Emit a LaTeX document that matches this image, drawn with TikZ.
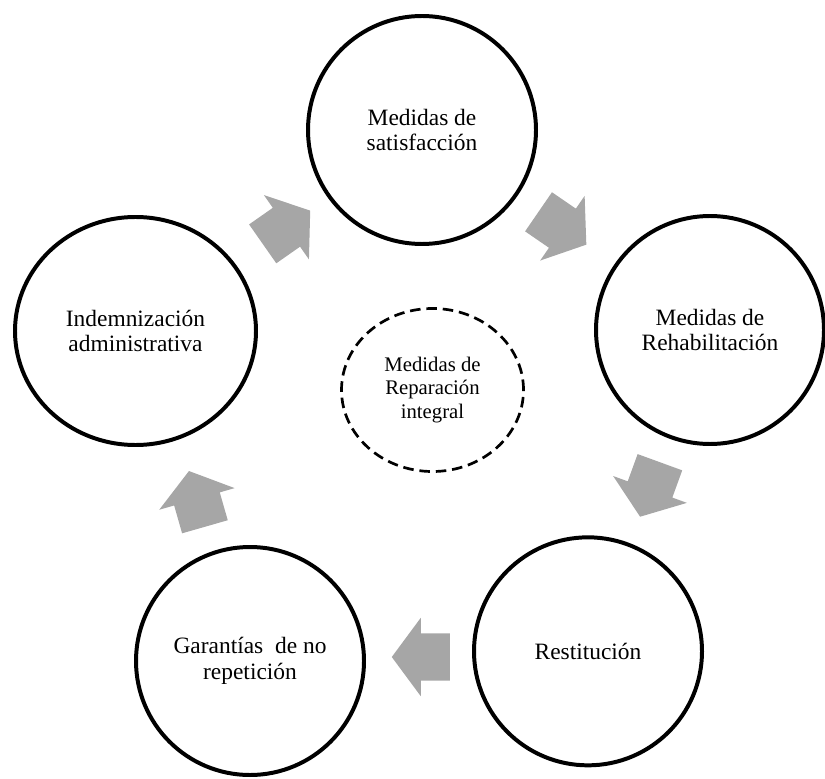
\documentclass[tikz,border=0pt]{standalone}
\usepackage{fontspec}
\setmainfont{Liberation Serif}
\usetikzlibrary{shapes.geometric, shapes.arrows}
\definecolor{arrowgray}{rgb}{0.651, 0.651, 0.651}

\begin{document}
\begin{tikzpicture}[
    medida/.style = {circle, draw, line width = 3.4pt, fill = white, minimum size = 6.84cm, align = center, font = \fontsize{20}{22}\selectfont},
    flecha/.style = {single arrow, fill = arrowgray, inner xsep = 0pt, inner ysep = 0.705cm, minimum height = 1.74cm, single arrow head extend = 0.465cm, single arrow tip angle = 107, anchor = tail}
  ]
        \useasboundingbox (0, 0) rectangle (24.75, 23.34);
        \node[medida] (sat) at (12.66, 19.44) {Medidas de\\satisfacción};
        \node[medida] (rehab) at (21.3, 13.44) {Medidas de\\Rehabilitación};
        \node[medida] (rest) at (17.64, 3.80) {Restitución};
        \node[medida] (gar) at (7.5, 3.51) {Garantías~ de no\\repetición};
        \node[medida, ellipse, minimum width = 7.23cm] (indem) at (4.065, 13.41) {Indemnización\\administrativa};
        \node[ellipse, draw, line width = 2.3pt, dash pattern = on 9pt off 5pt, minimum width = 5.46cm, minimum height = 4.89cm, align = center, font = \fontsize{17.7}{20}\selectfont] (centro) at (12.975, 11.64) {Medidas de\\Reparación\\integral};
        \node[flecha, rotate = 35] (a1) at (7.875, 16.02) {};
        \node[flecha, rotate = -34.5] (a2) at (16.15, 16.99) {};
        \node[flecha, rotate = -110] (a3) at (19.8, 9.48) {};
        \node[flecha, rotate = 180] (a4) at (13.5, 3.63) {};
        \node[flecha, rotate = 106] (a5) at (6.15, 7.53) {};
\end{tikzpicture}
\end{document}
